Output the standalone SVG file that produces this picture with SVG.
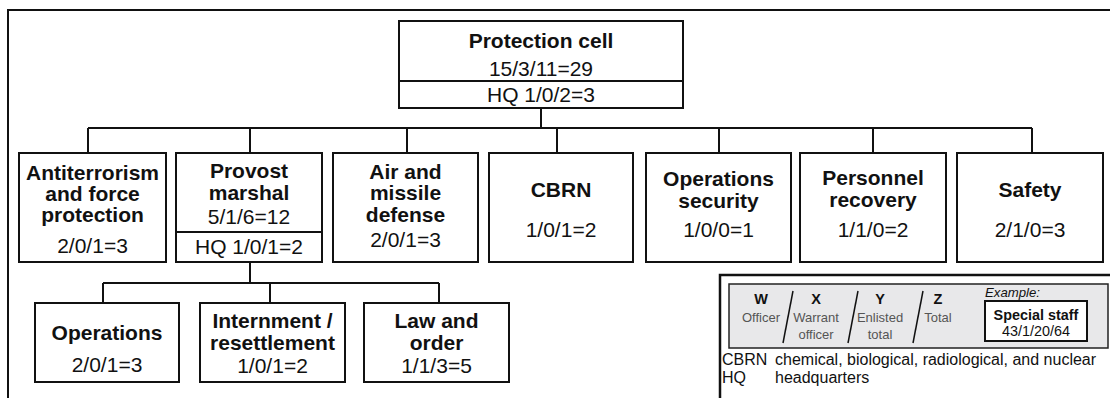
<svg xmlns="http://www.w3.org/2000/svg" width="1110" height="398" viewBox="0 0 1110 398">
  <style>
    text { font-family: "Liberation Sans", Arial, Helvetica, sans-serif; fill: #111; }
    .box { fill: #fff; stroke: #111; stroke-width: 2; }
    .line { fill: none; stroke: #111; stroke-width: 2; }
    .t { font-size: 21px; font-weight: bold; text-anchor: middle; }
    .n { font-size: 21px; text-anchor: middle; }
    .lk { font-size: 14.5px; font-weight: bold; text-anchor: middle; }
    .ls { font-size: 13px; fill: #555; text-anchor: middle; }
    .lg { font-size: 16px; }
  </style>

  <!-- outer frame (top and left edges) -->
  <path class="line" d="M8,398 V10 H1110" />

  <!-- connectors -->
  <g id="connectors">
    <path class="line" d="M541,108 V128 M88,128 H1032 M88,128 V153 M250,128 V153 M407,128 V153 M557,128 V153 M719,128 V153 M873,128 V153 M1032,128 V153" />
    <path class="line" d="M250,262 V283 M103,283 H439 M103,283 V303 M270,283 V303 M439,283 V303" />
  </g>

  <g id="protection-cell">
    <rect class="box" x="399" y="21" width="284" height="87" />
    <line class="line" x1="399" y1="81" x2="683" y2="81" />
    <text class="t" x="541" y="48">Protection cell</text>
    <text class="n" x="541" y="76">15/3/11=29</text>
    <text class="n" x="541" y="102">HQ 1/0/2=3</text>
  </g>

  <g id="antiterrorism">
    <rect class="box" x="19" y="153" width="147" height="109" />
    <text class="t" x="92.5" y="180" font-size="20">Antiterrorism</text>
    <text class="t" x="92.5" y="201" font-size="20">and force</text>
    <text class="t" x="92.5" y="222" font-size="20">protection</text>
    <text class="n" x="92.5" y="253">2/0/1=3</text>
  </g>

  <g id="provost-marshal">
    <rect class="box" x="176" y="153" width="146" height="109" />
    <line class="line" x1="176" y1="232" x2="322" y2="232" />
    <text class="t" x="249" y="178">Provost</text>
    <text class="t" x="249" y="200">marshal</text>
    <text class="n" x="249" y="224">5/1/6=12</text>
    <text class="n" x="249" y="254">HQ 1/0/1=2</text>
  </g>

  <g id="air-missile-defense">
    <rect class="box" x="333" y="153" width="145" height="109" />
    <text class="t" x="405.5" y="179">Air and</text>
    <text class="t" x="405.5" y="200">missile</text>
    <text class="t" x="405.5" y="222">defense</text>
    <text class="n" x="405.5" y="247">2/0/1=3</text>
  </g>

  <g id="cbrn">
    <rect class="box" x="489" y="153" width="144" height="109" />
    <text class="t" x="561" y="197">CBRN</text>
    <text class="n" x="561" y="237">1/0/1=2</text>
  </g>

  <g id="operations-security">
    <rect class="box" x="646" y="153" width="145" height="109" />
    <text class="t" x="718.5" y="186">Operations</text>
    <text class="t" x="718.5" y="208">security</text>
    <text class="n" x="718.5" y="237">1/0/0=1</text>
  </g>

  <g id="personnel-recovery">
    <rect class="box" x="800" y="153" width="146" height="109" />
    <text class="t" x="873" y="185">Personnel</text>
    <text class="t" x="873" y="207">recovery</text>
    <text class="n" x="873" y="237">1/1/0=2</text>
  </g>

  <g id="safety">
    <rect class="box" x="957" y="153" width="146" height="109" />
    <text class="t" x="1030" y="197">Safety</text>
    <text class="n" x="1030" y="237">2/1/0=3</text>
  </g>

  <g id="operations">
    <rect class="box" x="35" y="303" width="144" height="79" />
    <text class="t" x="107" y="340">Operations</text>
    <text class="n" x="107" y="372">2/0/1=3</text>
  </g>

  <g id="internment-resettlement">
    <rect class="box" x="200" y="303" width="145" height="79" />
    <text class="t" x="272.5" y="328">Internment /</text>
    <text class="t" x="272.5" y="350">resettlement</text>
    <text class="n" x="272.5" y="373">1/0/1=2</text>
  </g>

  <g id="law-and-order">
    <rect class="box" x="364" y="303" width="145" height="79" />
    <text class="t" x="436.5" y="328">Law and</text>
    <text class="t" x="436.5" y="350">order</text>
    <text class="n" x="436.5" y="373">1/1/3=5</text>
  </g>

  <!-- key: personnel notation and abbreviations -->
  <g id="legend">
    <rect x="720" y="275" width="400" height="140" fill="#fff" stroke="#111" stroke-width="2.5" />
    <rect x="729" y="284" width="379" height="64" fill="#e8e8ea" stroke="#222" stroke-width="1.5" />
    <text class="lk" x="761" y="304">W</text>
    <text class="ls" x="761" y="322">Officer</text>
    <line x1="793" y1="291" x2="783" y2="343" stroke="#111" stroke-width="1.5" />
    <text class="lk" x="816" y="304">X</text>
    <text class="ls" x="816" y="322">Warrant</text>
    <text class="ls" x="816" y="339">officer</text>
    <line x1="858" y1="291" x2="848" y2="343" stroke="#111" stroke-width="1.5" />
    <text class="lk" x="880" y="304">Y</text>
    <text class="ls" x="880" y="322">Enlisted</text>
    <text class="ls" x="880" y="339">total</text>
    <line x1="923" y1="291" x2="913" y2="343" stroke="#111" stroke-width="1.5" />
    <text class="lk" x="938" y="304">Z</text>
    <text class="ls" x="938" y="322">Total</text>
    <text x="985" y="297" font-size="13.2" font-style="italic">Example:</text>
    <rect x="985" y="301" width="102" height="40" fill="#fff" stroke="#111" stroke-width="2" />
    <text x="1036" y="320" font-size="14.4" font-weight="bold" text-anchor="middle">Special staff</text>
    <text x="1036" y="336" font-size="14.4" text-anchor="middle">43/1/20/64</text>
    <text class="lg" x="722" y="365">CBRN</text>
    <text class="lg" x="775" y="365">chemical, biological, radiological, and nuclear</text>
    <text class="lg" x="722" y="383">HQ</text>
    <text class="lg" x="775" y="383">headquarters</text>
  </g>
</svg>
